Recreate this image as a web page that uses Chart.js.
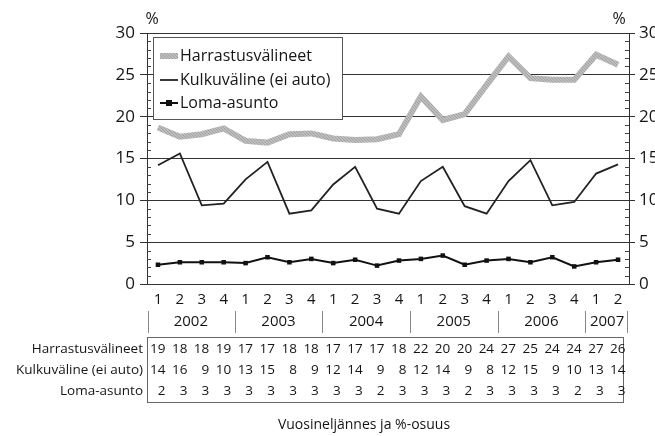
<!DOCTYPE html>
<html lang="fi">
<head>
<meta charset="UTF-8">
<title>Vuosineljännes ja %-osuus</title>
<script src="https://cdn.jsdelivr.net/npm/chart.js"></script>
<style>
    html, body { margin: 0; padding: 0; background: #fff; }
    #wrap { width: 655px; height: 436px; }
</style>
</head>
<body>
<div id="wrap"><canvas id="chart" width="655" height="436"></canvas></div>
<script>
// data
const quarters = ['1','2','3','4','1','2','3','4','1','2','3','4','1','2','3','4','1','2','3','4','1','2'];
const years = ['2002', '2003', '2004', '2005', '2006', '2007'];
const quartersPerYear = [4, 4, 4, 4, 4, 2];
const seriesNames = ['Harrastusvälineet', 'Kulkuväline (ei auto)', 'Loma-asunto'];

const harrastus   = [18.7, 17.6, 17.9, 18.6, 17.1, 16.9, 17.9, 18.0, 17.4, 17.2, 17.3, 17.9, 22.4, 19.6, 20.3, 23.8, 27.2, 24.6, 24.4, 24.4, 27.4, 26.2];
const kulkuvaline = [14.2, 15.6, 9.4, 9.6, 12.5, 14.6, 8.4, 8.8, 11.9, 14.0, 9.0, 8.4, 12.3, 14.0, 9.3, 8.4, 12.3, 14.8, 9.4, 9.8, 13.2, 14.3];
const lomaAsunto  = [2.3, 2.6, 2.6, 2.6, 2.5, 3.2, 2.6, 3.0, 2.5, 2.9, 2.2, 2.8, 3.0, 3.4, 2.3, 2.8, 3.0, 2.6, 3.2, 2.1, 2.6, 2.9];

// table under the chart (rounded values as printed)
const harrastusTable   = [19, 18, 18, 19, 17, 17, 18, 18, 17, 17, 17, 18, 22, 20, 20, 24, 27, 25, 24, 24, 27, 26];
const kulkuvalineTable = [14, 16, 9, 10, 13, 15, 8, 9, 12, 14, 9, 8, 12, 14, 9, 8, 12, 15, 9, 10, 13, 14];
const lomaAsuntoTable  = [2, 3, 3, 3, 3, 3, 3, 3, 3, 3, 2, 3, 3, 3, 2, 3, 3, 3, 3, 2, 3, 3];

const yMin = 0, yMax = 30, yStep = 5;
const xTitle = 'Vuosineljännes ja %-osuus';
const unit = '%';

const FONT = "'Open Sans', sans-serif";
const INK = '#151515';

// grey hatched stroke for Harrastusvälineet
function hatchPattern() {
    const c = document.createElement('canvas');
    c.width = 3; c.height = 3;
    const g = c.getContext('2d');
    g.fillStyle = '#bebebe';
    g.fillRect(0, 0, 3, 3);
    g.fillStyle = '#a2a2a2';
    g.fillRect(0, 0, 1, 1); g.fillRect(1, 1, 1, 1); g.fillRect(2, 2, 1, 1);
    return g.createPattern(c, 'repeat');
}
const hatch = hatchPattern();

// extras: minor ticks, %, years, table, title, legend
const extras = {
    id: 'extras',
    afterDraw(chart) {
        const ctx = chart.ctx;
        const x = chart.scales.x;
        const y = chart.scales.y;
        const area = chart.chartArea;
        const half = (x.getPixelForValue(1) - x.getPixelForValue(0)) / 2;
        ctx.save();

        // minor ticks inside both axes
        ctx.strokeStyle = '#444';
        ctx.lineWidth = 1;
        for (let v = yMin; v <= yMax; v++) {
            if (v % yStep === 0) continue;
            const py = Math.round(y.getPixelForValue(v)) + 0.5;
            ctx.beginPath();
            ctx.moveTo(area.left, py); ctx.lineTo(area.left + 4, py);
            ctx.moveTo(area.right, py); ctx.lineTo(area.right - 4, py);
            ctx.stroke();
        }

        ctx.fillStyle = INK;
        ctx.font = '16px ' + FONT;
        ctx.textBaseline = 'middle';
        ctx.textAlign = 'center';
        ctx.fillText(unit, area.left + 5, 19);
        ctx.fillText(unit, area.right - 10, 19);

        // year separators and labels
        ctx.font = '15px ' + FONT;
        ctx.strokeStyle = '#888';
        let i0 = 0;
        const sepTop = 311, sepBot = 333;
        const sep = px => {
            ctx.beginPath();
            ctx.moveTo(Math.round(px) + 0.5, sepTop);
            ctx.lineTo(Math.round(px) + 0.5, sepBot);
            ctx.stroke();
        };
        sep(x.getPixelForValue(0) - half + 1);
        years.forEach((yr, k) => {
            const n = quartersPerYear[k];
            const a = x.getPixelForValue(i0);
            const b = x.getPixelForValue(i0 + n - 1);
            ctx.fillText(yr, (a + b) / 2, 322);
            sep(b + half - (k === years.length - 1 ? 2 : 0));
            i0 += n;
        });

        // data table
        const tLeft = area.left, tRight = area.right - 6, tTop = 337, tBot = 402;
        ctx.strokeStyle = '#666';
        ctx.strokeRect(tLeft + 0.5, tTop + 0.5, tRight - tLeft, tBot - tTop);
        const rows = [harrastusTable, kulkuvalineTable, lomaAsuntoTable];
        const rowY = [349, 370, 391];
        ctx.font = '13.5px ' + FONT;
        rows.forEach((row, r) => {
            ctx.textAlign = 'right';
            ctx.fillText(seriesNames[r], tLeft - 4, rowY[r]);
            row.forEach((v, i) => {
                ctx.fillText(String(v), x.getPixelForValue(i) + 7.5, rowY[r]);
            });
        });

        // axis title
        ctx.textAlign = 'center';
        ctx.font = '14px ' + FONT;
        ctx.fillText(xTitle, 364, 425);

        // legend box
        const lx = 153, ly = 37, lw = 189, lh = 82;
        ctx.fillStyle = '#fff';
        ctx.fillRect(lx, ly, lw, lh);
        ctx.strokeStyle = '#555';
        ctx.strokeRect(lx + 0.5, ly + 0.5, lw, lh);
        const ds = chart.data.datasets;
        const ly0 = [56, 80, 103];
        ctx.font = '16px ' + FONT;
        ctx.textAlign = 'left';
        ds.forEach((d, k) => {
            const yy = ly0[k];
            ctx.strokeStyle = d.borderColor;
            ctx.lineWidth = k === 0 ? 6 : d.borderWidth;
            ctx.beginPath();
            ctx.moveTo(160, yy); ctx.lineTo(178, yy);
            ctx.stroke();
            if (k === 2) {
                ctx.fillStyle = '#111';
                ctx.fillRect(166, yy - 3, 6, 6);
            }
            ctx.fillStyle = INK;
            ctx.fillText(d.label, 180, yy);
        });
        ctx.restore();
    }
};

new Chart(document.getElementById('chart'), {
    type: 'line',
    data: {
        labels: quarters,
        datasets: [{
            label: seriesNames[0],
            data: harrastus,
            borderColor: hatch,
            borderWidth: 6,
            pointRadius: 0,
            tension: 0,
            borderJoinStyle: 'miter'
        }, {
            label: seriesNames[1],
            data: kulkuvaline,
            borderColor: '#222',
            borderWidth: 1.8,
            pointRadius: 0,
            tension: 0
        }, {
            label: seriesNames[2],
            data: lomaAsunto,
            borderColor: '#111',
            borderWidth: 2,
            backgroundColor: '#111',
            pointStyle: 'rect',
            pointRadius: 3.2,
            pointBorderWidth: 0,
            tension: 0
        }]
    },
    options: {
        responsive: false,
        animation: false,
        devicePixelRatio: 1,
        layout: { padding: { top: 33, left: 0, right: 0, bottom: 0 } },
        plugins: {
            legend: { display: false },
            tooltip: { enabled: false }
        },
        scales: {
            x: {
                offset: true,
                grid: { display: false, drawTicks: false },
                border: { display: false },
                ticks: {
                    color: INK,
                    font: { family: FONT, size: 15 },
                    padding: 7,
                    maxRotation: 0,
                    autoSkip: false
                },
                afterFit: s => { s.height = 152; }
            },
            y: {
                position: 'left',
                min: yMin,
                max: yMax,
                ticks: {
                    stepSize: yStep,
                    color: INK,
                    font: { family: FONT, size: 17 },
                    padding: 5
                },
                grid: { color: '#333', lineWidth: 1, tickLength: 7 },
                border: { display: true, color: '#333' },
                afterFit: s => { s.width = 147; }
            },
            y2: {
                position: 'right',
                min: yMin,
                max: yMax,
                ticks: {
                    stepSize: yStep,
                    color: INK,
                    font: { family: FONT, size: 17 },
                    padding: 4
                },
                grid: { drawOnChartArea: false, color: '#333', tickLength: 6 },
                border: { display: true, color: '#333' },
                afterFit: s => { s.width = 26; }
            }
        }
    },
    plugins: [extras]
});
</script>
</body>
</html>
